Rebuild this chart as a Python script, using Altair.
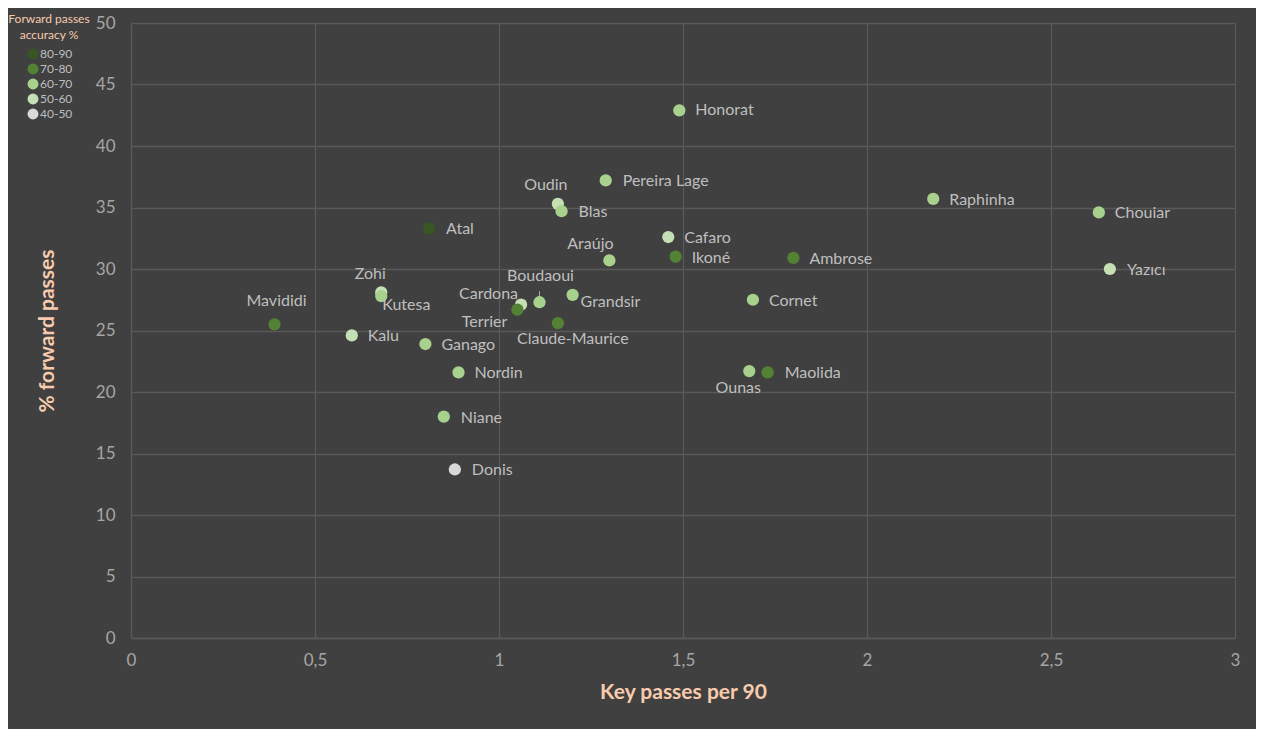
import altair as alt
import pandas as pd

players = ["Honorat", "Pereira Lage", "Oudin", "Blas", "Raphinha", "Chouiar", "Yazıcı",
           "Atal", "Cafaro", "Araújo", "Ikoné", "Ambrose", "Zohi", "Kutesa", "Mavididi",
           "Cardona", "Terrier", "Boudaoui", "Grandsir", "Claude-Maurice", "Kalu", "Ganago",
           "Nordin", "Niane", "Donis", "Cornet", "Ounas", "Maolida"]
key_passes = [1.49, 1.29, 1.16, 1.17, 2.18, 2.63, 2.66,
              0.81, 1.46, 1.30, 1.48, 1.80, 0.68, 0.68, 0.39,
              1.06, 1.05, 1.11, 1.20, 1.16, 0.60, 0.80,
              0.89, 0.85, 0.88, 1.69, 1.68, 1.73]
fwd_pct = [42.9, 37.2, 35.3, 34.7, 35.7, 34.6, 30.0,
           33.3, 32.6, 30.7, 31.0, 30.9, 28.1, 27.8, 25.5,
           27.1, 26.7, 27.3, 27.9, 25.6, 24.6, 23.9,
           21.6, 18.0, 13.7, 27.5, 21.7, 21.6]
accuracy = ["60-70", "60-70", "50-60", "60-70", "60-70", "60-70", "50-60",
            "80-90", "50-60", "60-70", "70-80", "70-80", "50-60", "60-70", "70-80",
            "50-60", "70-80", "60-70", "60-70", "70-80", "50-60", "60-70",
            "60-70", "60-70", "40-50", "60-70", "60-70", "70-80"]

acc_classes = ["80-90", "70-80", "60-70", "50-60", "40-50"]
acc_colors = ["#375623", "#548235", "#A9D18E", "#C5E0B4", "#D9D9D9"]

x_ticks = [0, 0.5, 1, 1.5, 2, 2.5, 3]
y_ticks = [0, 5, 10, 15, 20, 25, 30, 35, 40, 45, 50]

# label placement (layout only): (align, dx, dy)
label_layout = {
    "Honorat": ("left", 16, 0), "Pereira Lage": ("left", 17, 1), "Oudin": ("center", -12, -19),
    "Blas": ("left", 17, 1), "Raphinha": ("left", 16, 1), "Chouiar": ("left", 16, 1),
    "Yazıcı": ("left", 17, 1), "Atal": ("left", 17, 1), "Cafaro": ("left", 16, 1),
    "Araújo": ("center", -19, -16), "Ikoné": ("left", 16, 1), "Ambrose": ("left", 16, 1),
    "Zohi": ("center", -11, -18), "Kutesa": ("left", 1, 9), "Mavididi": ("center", 2, -23),
    "Cardona": ("right", -3, -11), "Terrier": ("right", -10, 12), "Boudaoui": ("center", 1, -26),
    "Grandsir": ("left", 8, 7), "Claude-Maurice": ("center", 15, 16), "Kalu": ("left", 16, 1),
    "Ganago": ("left", 16, 1), "Nordin": ("left", 16, 1), "Niane": ("left", 17, 1),
    "Donis": ("left", 17, 1), "Cornet": ("left", 16, 1), "Ounas": ("center", -11, 17),
    "Maolida": ("left", 17, 1),
}

df = pd.DataFrame({"player": players, "kp": key_passes, "fwd": fwd_pct, "acc": accuracy})

FONT = "Lato"
x_enc = alt.X("kp:Q", scale=alt.Scale(domain=[0, 3], nice=False),
              axis=alt.Axis(values=x_ticks, title="Key passes per 90", labelFlush=False,
                            labelExpr="replace(toString(datum.value), '.', ',')"))
y_enc = alt.Y("fwd:Q", scale=alt.Scale(domain=[0, 50], nice=False),
              axis=alt.Axis(values=y_ticks, title="% forward passes", labelFlush=False))

base = alt.Chart(df)

points = base.mark_circle(size=150, opacity=1).encode(
    x=x_enc, y=y_enc,
    color=alt.Color("acc:N", scale=alt.Scale(domain=acc_classes, range=acc_colors),
                    legend=alt.Legend(title=["Forward passes", "accuracy %"], orient="none",
                                      legendX=-123, legendY=-9, titleAlign="center",
                                      titleAnchor="middle", titleColor="#F8CBAD",
                                      titleFontSize=12, titleFontWeight="normal", titleFont=FONT,
                                      titleLineHeight=16, labelColor="#BFBFBF", labelFontSize=12,
                                      labelFont=FONT, symbolSize=120, symbolType="circle",
                                      symbolStrokeWidth=0, rowPadding=3, labelOffset=1,
                                      symbolOffset=2, padding=0, titlePadding=6)),
)

labels = []
for name in players:
    align, dx, dy = label_layout[name]
    labels.append(
        base.transform_filter(alt.datum.player == name).mark_text(
            align=align, baseline="middle", dx=dx, dy=dy, fontSize=16, font=FONT, color="#BFBFBF"
        ).encode(x="kp:Q", y="fwd:Q", text="player:N")
    )

leader = base.transform_filter(alt.datum.player == "Boudaoui").transform_calculate(
    ytop="datum.fwd + 0.9"
).mark_rule(color="#A6A6A6", strokeWidth=1).encode(x="kp:Q", y="fwd:Q", y2="ytop:Q")

chart = alt.layer(leader, points, *labels).properties(
    width=1104, height=615,
    autosize=alt.AutoSizeParams(type="none"),
    padding={"left": 123, "top": 15, "right": 21, "bottom": 91},
    background="#404040",
).configure_view(stroke=None).configure_axis(
    grid=True, gridColor="#595959", gridWidth=1.3, domainColor="#595959", domainWidth=1.3,
    ticks=False, labelColor="#A6A6A6", labelFontSize=17, labelFont=FONT,
    titleColor="#F8CBAD", titleFontSize=21, titleFontWeight="bold", titleFont=FONT,
).configure_axisX(labelPadding=14, titlePadding=13).configure_axisY(labelPadding=16, titlePadding=38)

chart.save("out.html", embed_options={"renderer": "svg", "actions": False})
